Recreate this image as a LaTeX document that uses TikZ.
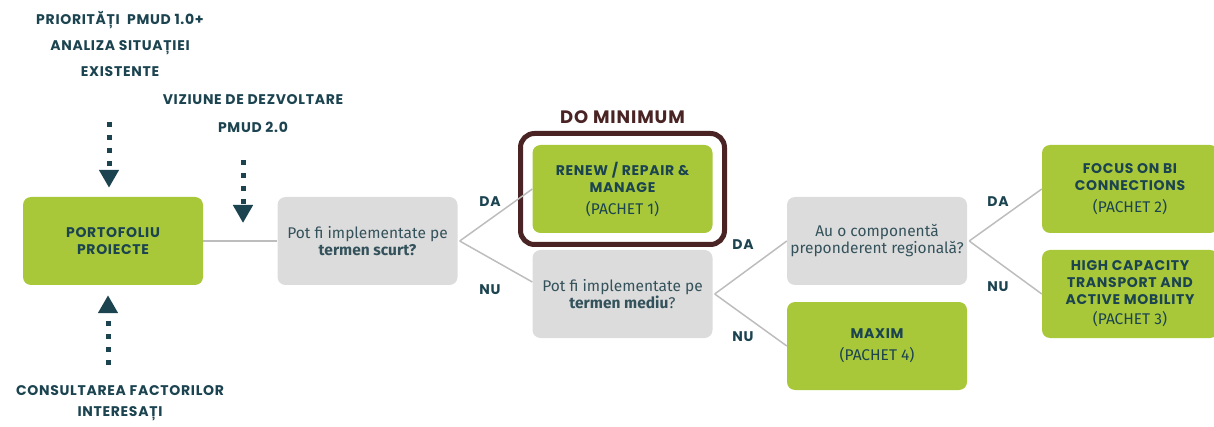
\documentclass[tikz,border=0pt]{standalone}
\usepackage{fontspec}
\setmainfont{Fira Sans}
\newfontfamily\headfont{Poppins}[LetterSpace=5]
\usetikzlibrary{arrows.meta,positioning}
\definecolor{pmteal}{HTML}{1B4350}
\definecolor{pmtext}{HTML}{34525B}
\definecolor{pmgreen}{HTML}{A8C83A}
\definecolor{pmgray}{HTML}{DCDCDC}
\definecolor{pmline}{HTML}{BDBDBD}
\definecolor{pmbrown}{HTML}{4A2424}
\newcommand\pk[1]{{\normalfont\fontsize{15.5}{18}\selectfont #1}}

\begin{document}
\begin{tikzpicture}[x=1pt, y=-1pt,
    head/.style={font=\headfont\bfseries\fontsize{14}{26}\selectfont, text=pmteal, align=center},
    answer/.style={font=\headfont\bfseries\fontsize{14}{15}\selectfont, text=pmteal},
    pkg/.style={fill=pmgreen, rounded corners=8pt, minimum width=180pt, minimum height=88pt,
                inner sep=0pt, align=center, text=pmteal,
                font=\headfont\bfseries\fontsize{14}{17}\selectfont},
    ask/.style={pkg, fill=pmgray, text=pmtext, font=\fontsize{15.5}{17}\selectfont},
    minframe/.style={draw=pmbrown, line width=5pt, rounded corners=14pt,
                     minimum width=204pt, minimum height=111pt},
    link/.style={draw=pmline, line width=1.5pt},
    dotflow/.style={-{Triangle[width=19pt,length=18pt]}, draw=pmteal, line width=5pt,
                    dash pattern=on 5pt off 8pt}
  ]
    \useasboundingbox (0,0) rectangle (1214,427);

    % inputs
    \node[head] (prio) at (120,44) {PRIORITĂȚI \ PMUD 1.0+\\ANALIZA SITUAȚIEI\\EXISTENTE};
    \node[head, font=\headfont\bfseries\fontsize{14}{28}\selectfont] (vision) at (253,114) {VIZIUNE DE DEZVOLTARE\\PMUD 2.0};
    \node[head, font=\headfont\bfseries\fontsize{14}{21}\selectfont] (consult) at (120,403) {CONSULTAREA FACTORILOR\\INTERESAȚI};

    % boxes
    \node[pkg] (portf) at (113,241) {PORTOFOLIU\\PROIECTE};
    \node[ask] (short) at (367.5,241) {Pot fi implementate pe\\\textbf{termen scurt?}};
    \node[pkg] (renew) at (622.5,189) {RENEW / REPAIR \&\\MANAGE\\[5pt]\pk{(PACHET 1)}};
    \node[ask] (medium) at (622.5,294) {Pot fi implementate pe\\\textbf{termen mediu}?};
    \node[ask] (regional) at (877,241) {Au o componentă\\preponderent regională?};
    \node[pkg] (maxim) at (877,346) {MAXIM\\[5pt]\pk{(PACHET 4)}};
    \node[pkg, minimum width=176pt] (focus) at (1130,189) {FOCUS ON BI\\CONNECTIONS\\[5pt]\pk{(PACHET 2)}};
    \node[pkg, minimum width=176pt] (highcap) at (1130,294) {HIGH CAPACITY\\TRANSPORT AND\\ACTIVE MOBILITY\\[3pt]\pk{(PACHET 3)}};

    % do minimum
    \node[minframe] (domin) at (renew) {};
    \node[answer, text=pmbrown, font=\headfont\bfseries\fontsize{18}{20}\selectfont, above=4pt of domin] (domintitle) {DO MINIMUM};

    % links
    \draw[link] (portf) -- (short);
    \draw[link] ([xshift=2pt]short.east) -- (renew.west);
    \draw[link] ([xshift=2pt]short.east) -- ([yshift=12pt]medium.west);
    \draw[link] ([xshift=2pt]medium.east) -- (regional.west);
    \draw[link] ([xshift=2pt]medium.east) -- (maxim.west);
    \draw[link] ([xshift=2pt]regional.east) -- (focus.west);
    \draw[link] ([xshift=2pt]regional.east) -- (highcap.west);

    \node[answer] (da1) at (490,202) {DA};
    \node[answer] (nu1) at (490,290) {NU};
    \node[answer] (da2) at (743,245) {DA};
    \node[answer] (nu2) at (743,337) {NU};
    \node[answer] (da3) at (998,202) {DA};
    \node[answer] (nu3) at (998,287) {NU};

    % dotted arrows
    \coordinate (prioend) at (109,122);
    \coordinate (visionend) at (243,160);
    \coordinate (visiontip) at (243,223);
    \coordinate (consultend) at (108,365);
    \draw[dotflow, shorten >=9pt] (prioend) -- (prioend |- portf.north);
    \draw[dotflow] (visionend) -- (visiontip);
    \draw[dotflow, shorten >=10pt] (consultend) -- (consultend |- portf.south);
  \end{tikzpicture}
\end{document}
